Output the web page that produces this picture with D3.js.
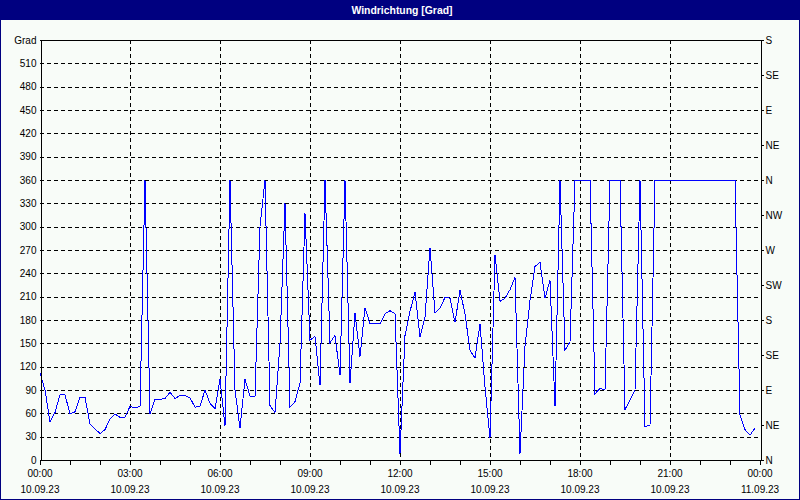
<!DOCTYPE html>
<html>
<head>
<meta charset="utf-8">
<script src="https://cdn.jsdelivr.net/npm/d3@7"></script>
<style>
  html, body { margin: 0; padding: 0; background: #f8fcf8; }
  svg { display: block; }
  text { font-family: "Liberation Sans", Arial, sans-serif; font-size: 10px; fill: #000; }
</style>
</head>
<body>
<svg id="chart" width="800" height="500"></svg>
<script>
// ---- data ----
const title = "Windrichtung [Grad]";
const yUnit = "Grad";
const startTime = "2023-09-10T00:00:00";
const endTime = "2023-09-11T00:00:00";
const stepMinutes = 10;
const windDir = [
  112, 90, 49, 61, 84, 84, 59, 62, 81, 81,
  46, 40, 34, 39, 53, 59, 55, 55, 69, 67,
  69, 360, 59, 78, 78, 79, 87, 79, 83, 83,
  80, 68, 69, 90, 73, 66, 104, 44, 360, 90,
  41, 104, 82, 82, 300, 360, 70, 61, 150, 330,
  68, 75, 99, 317, 154, 159, 96, 360, 151, 160,
  109, 360, 99, 189, 133, 196, 175, 176, 175, 188,
  192, 188, 8, 160, 191, 216, 158, 184, 273, 189,
  195, 209, 208, 177, 218, 188, 141, 131, 175, 94,
  28, 264, 204, 208, 219, 235, 8, 146, 205, 249,
  254, 208, 231, 69, 360, 141, 152, 360, 360, 360,
  360, 85, 92, 90, 360, 360, 360, 65, 77, 90,
  360, 43, 45, 360, 360, 360, 360, 360, 360, 360,
  360, 360, 360, 360, 360, 360, 360, 360, 360, 360,
  58, 39, 32, 41
];
const leftTicks = [0, 30, 60, 90, 120, 150, 180, 210, 240, 270, 300, 330, 360, 390, 420, 450, 480, 510];
const rightTicks = [0, 45, 90, 135, 180, 225, 270, 315, 360, 405, 450, 495, 540];
const rightLabels = ["N", "NE", "E", "SE", "S", "SW", "W", "NW", "N", "NE", "E", "SE", "S"];
const yMax = 540;

// ---- layout ----
const W = 800, H = 500;
const L = 40, R = 760, T = 40, B = 460;
const navy = "#000080";

const svg = d3.select("#chart");
const parse = d3.isoParse;
const t0 = parse(startTime), t1 = parse(endTime);
const data = windDir.map((v, i) => ({ t: d3.timeMinute.offset(t0, i * stepMinutes), v }));

const x = d3.scaleTime().domain([t0, t1]).range([L, R]);
const y = d3.scaleLinear().domain([0, yMax]).range([B, T]);

// background + frame
svg.append("rect").attr("x", 0).attr("y", 0).attr("width", W).attr("height", H).attr("fill", "#f8fcf8");
svg.append("rect").attr("x", 0.5).attr("y", 0.5).attr("width", W - 1).attr("height", H - 1)
  .attr("fill", "none").attr("stroke", navy);
svg.append("rect").attr("x", 0).attr("y", 0).attr("width", W).attr("height", 20).attr("fill", navy);
svg.append("text").attr("x", 402).attr("y", 14).attr("text-anchor", "middle")
  .attr("textLength", 101).attr("lengthAdjust", "spacingAndGlyphs")
  .style("font-weight", "bold").style("font-size", "11px").style("fill", "#fff").text(title);

// grid
const grid = svg.append("g").attr("shape-rendering", "crispEdges");
grid.selectAll("line.h").data(leftTicks.filter(d => d > 0)).join("line")
  .attr("x1", L).attr("x2", R).attr("y1", d => Math.round(y(d)) + 0.5).attr("y2", d => Math.round(y(d)) + 0.5)
  .attr("stroke", "#000").attr("stroke-dasharray", "4,3");
const vTicks = d3.timeHour.every(3).range(t0, t1).filter(d => +d > +t0);
grid.selectAll("line.v").data(vTicks).join("line")
  .attr("x1", d => Math.round(x(d)) + 0.5).attr("x2", d => Math.round(x(d)) + 0.5).attr("y1", T).attr("y2", B)
  .attr("stroke", "#000").attr("stroke-dasharray", "4,3");

// data line
const line = d3.line().x(d => x(d.t)).y(d => y(d.v));
svg.append("path").datum(data).attr("d", line)
  .attr("fill", "none").attr("stroke", "#0000ff").attr("stroke-width", 1)
  .attr("shape-rendering", "crispEdges");

// frame lines
const frame = svg.append("g").attr("shape-rendering", "crispEdges");
frame.append("line").attr("x1", L).attr("x2", R + 0.5).attr("y1", T + 0.5).attr("y2", T + 0.5).attr("stroke", "#000");

// left axis
const yAxisL = d3.axisLeft(y).tickValues(leftTicks.concat([yMax])).tickSize(0).tickPadding(4)
  .tickFormat(d => d === yMax ? yUnit : String(d));
const gL = svg.append("g").attr("transform", `translate(${L + 0.5},0)`).call(yAxisL);
gL.select(".domain").attr("stroke", "#000").attr("shape-rendering", "crispEdges");
gL.selectAll("text").style("font-size", "10px").attr("fill", "#000");

// right axis
const yAxisR = d3.axisRight(y).tickValues(rightTicks).tickSize(3).tickPadding(2)
  .tickFormat((d, i) => rightLabels[i]);
const gR = svg.append("g").attr("transform", `translate(${R + 0.5},0)`).call(yAxisR);
gR.selectAll(".domain, line").attr("stroke", "#000").attr("shape-rendering", "crispEdges");
gR.selectAll("text").style("font-size", "10px").attr("fill", "#000");

// bottom axis (hourly minor ticks)
const xAxis = d3.axisBottom(x).ticks(d3.timeHour.every(1)).tickSize(4).tickFormat("");
const gB = svg.append("g").attr("transform", `translate(0,${B + 0.5})`).call(xAxis);
gB.selectAll(".domain, line").attr("stroke", "#000").attr("shape-rendering", "crispEdges");
gB.select(".domain").attr("d", `M${L},0H${R + 1}`);

// bottom labels (time + date)
const labTicks = d3.timeHour.every(3).range(t0, d3.timeMinute.offset(t1, 1));
const fTime = d3.timeFormat("%H:%M"), fDate = d3.timeFormat("%d.%m.%y");
const gl = svg.append("g");
gl.selectAll("text.t").data(labTicks).join("text")
  .attr("x", d => x(d)).attr("y", 477).attr("text-anchor", "middle").text(d => fTime(d));
gl.selectAll("text.d").data(labTicks).join("text")
  .attr("x", d => x(d)).attr("y", 493).attr("text-anchor", "middle").text(d => fDate(d));
</script>
</body>
</html>
